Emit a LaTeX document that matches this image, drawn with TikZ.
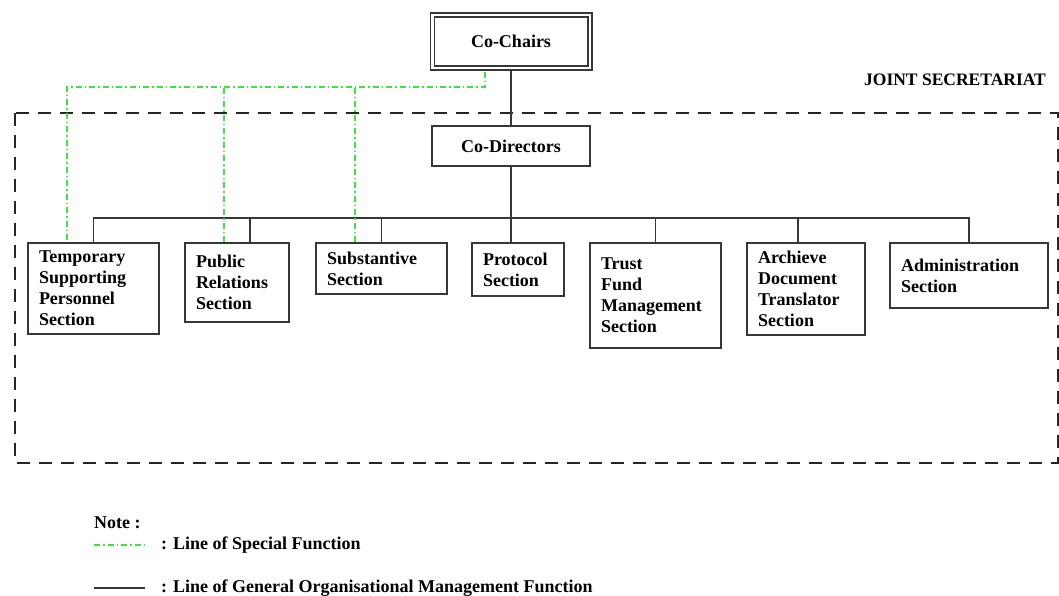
\documentclass[tikz,border=0pt]{standalone}
\usepackage{fontspec}
\setmainfont{Liberation Serif}
\definecolor{linec}{RGB}{55,55,55}
\definecolor{specgreen}{RGB}{60,230,60}

\begin{document}
\begin{tikzpicture}[x=1pt, y=-1pt,
    txt/.style = {font=\bfseries\fontsize{18}{21}\selectfont},
    unit/.style = {draw=linec, line width=1.2pt, txt, align=left, inner xsep=11pt, inner ysep=3pt},
    head/.style = {draw=linec, line width=1.2pt, txt, align=center},
    general/.style = {draw=linec, line width=1.3pt},
    special/.style = {draw=specgreen, line width=1.2pt, dash pattern=on 6pt off 3pt on 1.5pt off 3pt},
    frame/.style = {draw=black!85, line width=2.6pt, dash pattern=on 13pt off 9pt}]
                \useasboundingbox (0,0) rectangle (1059,596);

                % joint secretariat frame
                \draw [frame] (15,113) rectangle (1058,463);
                \node (js) [txt, font=\bfseries\fontsize{17.5}{20}\selectfont] at (955,80) {JOINT SECRETARIAT};

                \node (chairs) [head, line width=1.6pt, double=white, double distance=2.4pt, minimum width=157.4, minimum height=53.4] at (511,41.5) {Co-Chairs};
                \node (directors) [head, minimum width=158, minimum height=40] at (511,146) {Co-Directors};

                \node (temp) [unit, text width=109, minimum height=91] at (93.5,288.5) {Temporary\\Supporting\\Personnel\\Section};
                \node (pubrel) [unit, text width=82, minimum height=79] at (237,282.5) {Public\\Relations\\Section};
                \node (subst) [unit, text width=109, minimum height=51] at (381.5,268.5) {Substantive\\Section};
                \node (proto) [unit, text width=70, minimum height=53] at (518,269.5) {Protocol\\Section};
                \node (trust) [unit, text width=109, minimum height=105] at (655.5,295.5) {Trust\\Fund\\Management\\Section};
                \node (archive) [unit, text width=96, minimum height=92] at (806,289) {Archieve\\Document\\Translator\\Section};
                \node (admin) [unit, text width=136, minimum height=65] at (969,275.5) {Administration\\Section};

                \coordinate (bus) at (511,218);
                \coordinate (spec) at (511,87);

                % general management lines
                \draw [general] (chairs) -- (directors);
                \draw [general] (directors) -- (directors |- bus);
                \draw [general] (temp.north) -- (temp.north |- bus) -- (admin.north |- bus) -- (admin.north);
                \draw [general] ([xshift=13pt]pubrel.north) -- ([xshift=13pt]pubrel.north |- bus);
                \draw [general] (subst.north) -- (subst.north |- bus);
                \draw [general] ([xshift=-7pt]proto.north) -- ([xshift=-7pt]proto.north |- bus);
                \draw [general] (trust.north) -- (trust.north |- bus);
                \draw [general] ([xshift=-8pt]archive.north) -- ([xshift=-8pt]archive.north |- bus);

                % special function lines
                \draw [special] ([xshift=-26pt,yshift=-2.7pt]chairs.south) -- ([xshift=-26pt]chairs.south |- spec)
                    -- ([xshift=-26.5pt]temp.north |- spec) -- ([xshift=-26.5pt]temp.north);
                \draw [special] ([xshift=-13pt]pubrel.north) -- ([xshift=-13pt]pubrel.north |- spec);
                \draw [special] ([xshift=-26.5pt]subst.north) -- ([xshift=-26.5pt]subst.north |- spec);

                % note
                \node (note) [txt, anchor=west, inner sep=0pt] at (94,523) {Note :};
                \coordinate (sp0) at (94,545);
                \coordinate (sp1) at (148,545);
                \coordinate (gn0) at (94,588);
                \coordinate (gn1) at (145,588);
                \draw [special] (sp0) -- (sp1);
                \draw [general] (gn0) -- (gn1);
                \node (spectxt) [txt, anchor=west, inner sep=0pt] at (161,545) {: Line of Special Function};
                \node (gentxt) [txt, anchor=west, inner sep=0pt] at (161,588) {: Line of General Organisational Management Function};
            \end{tikzpicture}
\end{document}
